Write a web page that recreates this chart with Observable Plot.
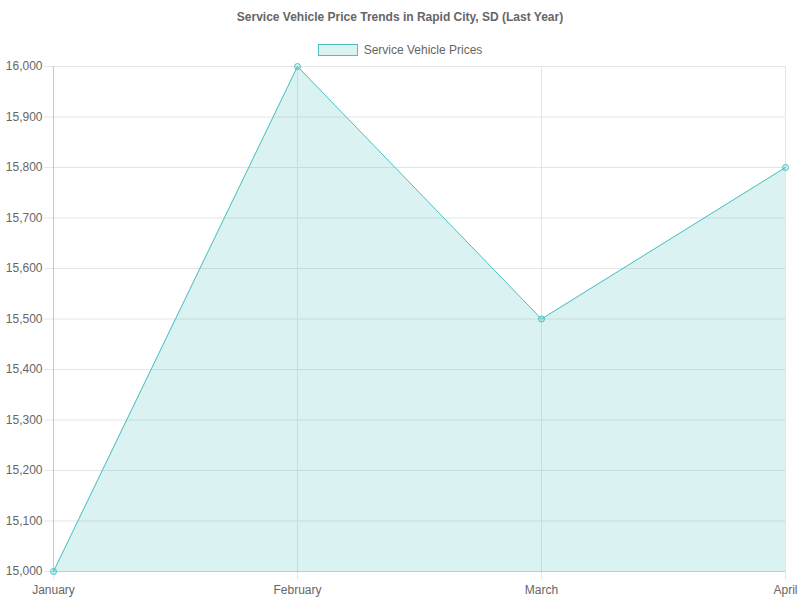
<!DOCTYPE html>
<html>
<head>
<meta charset="utf-8">
<script src="https://cdn.jsdelivr.net/npm/d3@7"></script>
<script src="https://cdn.jsdelivr.net/npm/@observablehq/plot@0.6"></script>
<style>
  body { margin: 0; background: #fff; font-family: "Liberation Sans", Arial, Helvetica, sans-serif; }
  #wrap { width: 800px; height: 600px; position: relative; }
  #title { position: absolute; top: 9px; left: 0; width: 800px; text-align: center; font-weight: bold; font-size: 12px; color: #666; line-height: 16px; }
  #legend { position: absolute; top: 43px; left: 0; width: 800px; display: flex; justify-content: center; align-items: center; font-size: 12px; color: #666; line-height: 14px; }
  #legend .box { width: 38px; height: 10px; border: 1px solid rgb(75,192,192); background: rgba(75,192,192,0.2); margin-right: 6px; }
  #chart { position: absolute; top: 60px; left: 0; }
</style>
</head>
<body>
<div id="wrap">
  <div id="title">Service Vehicle Price Trends in Rapid City, SD (Last Year)</div>
  <div id="legend"><div class="box"></div><span>Service Vehicle Prices</span></div>
  <div id="chart"></div>
</div>
<script>
const months = ["January", "February", "March", "April"];
const prices = [15000, 16000, 15500, 15800];
const yTicks = [15000, 15100, 15200, 15300, 15400, 15500, 15600, 15700, 15800, 15900, 16000];

const data = months.map((m, i) => ({month: m, price: prices[i]}));
const teal = "rgb(75,192,192)";
const tealFill = "rgba(75,192,192,0.2)";

const chart = Plot.plot({
  width: 800,
  height: 540,
  marginTop: 6,
  marginBottom: 29,
  marginLeft: 52,
  marginRight: 15,
  style: {fontSize: "12px", fontFamily: "'Liberation Sans', Arial, Helvetica, sans-serif", color: "#666", background: "#fff"},
  x: {type: "point", domain: months, padding: 0},
  y: {domain: [15000, 16000]},
  marks: [
    Plot.ruleY(yTicks, {stroke: "#e5e5e5", strokeWidth: 1}),
    Plot.ruleX(months, {stroke: "#e5e5e5", strokeWidth: 1, y1: 16000, y2: 15000}),
    Plot.axisY({ticks: yTicks, tickFormat: d3.format(","), tickSize: 8, tickPadding: 2, stroke: "#e5e5e5", fill: "#666", label: null}),
    Plot.axisX({tickSize: 8, tickPadding: 6, stroke: "#e5e5e5", fill: "#666", label: null}),
    Plot.ruleX([months[0]], {stroke: "#c8c8c8", strokeWidth: 1}),
    Plot.ruleY([15000], {stroke: "#c8c8c8", strokeWidth: 1}),
    Plot.areaY(data, {x: "month", y1: 15000, y2: "price", fill: tealFill}),
    Plot.line(data, {x: "month", y: "price", stroke: teal, strokeWidth: 1}),
    Plot.dot(data, {x: "month", y: "price", r: 3, stroke: teal, fill: tealFill, strokeWidth: 1})
  ]
});
document.getElementById("chart").appendChild(chart);
</script>
</body>
</html>
